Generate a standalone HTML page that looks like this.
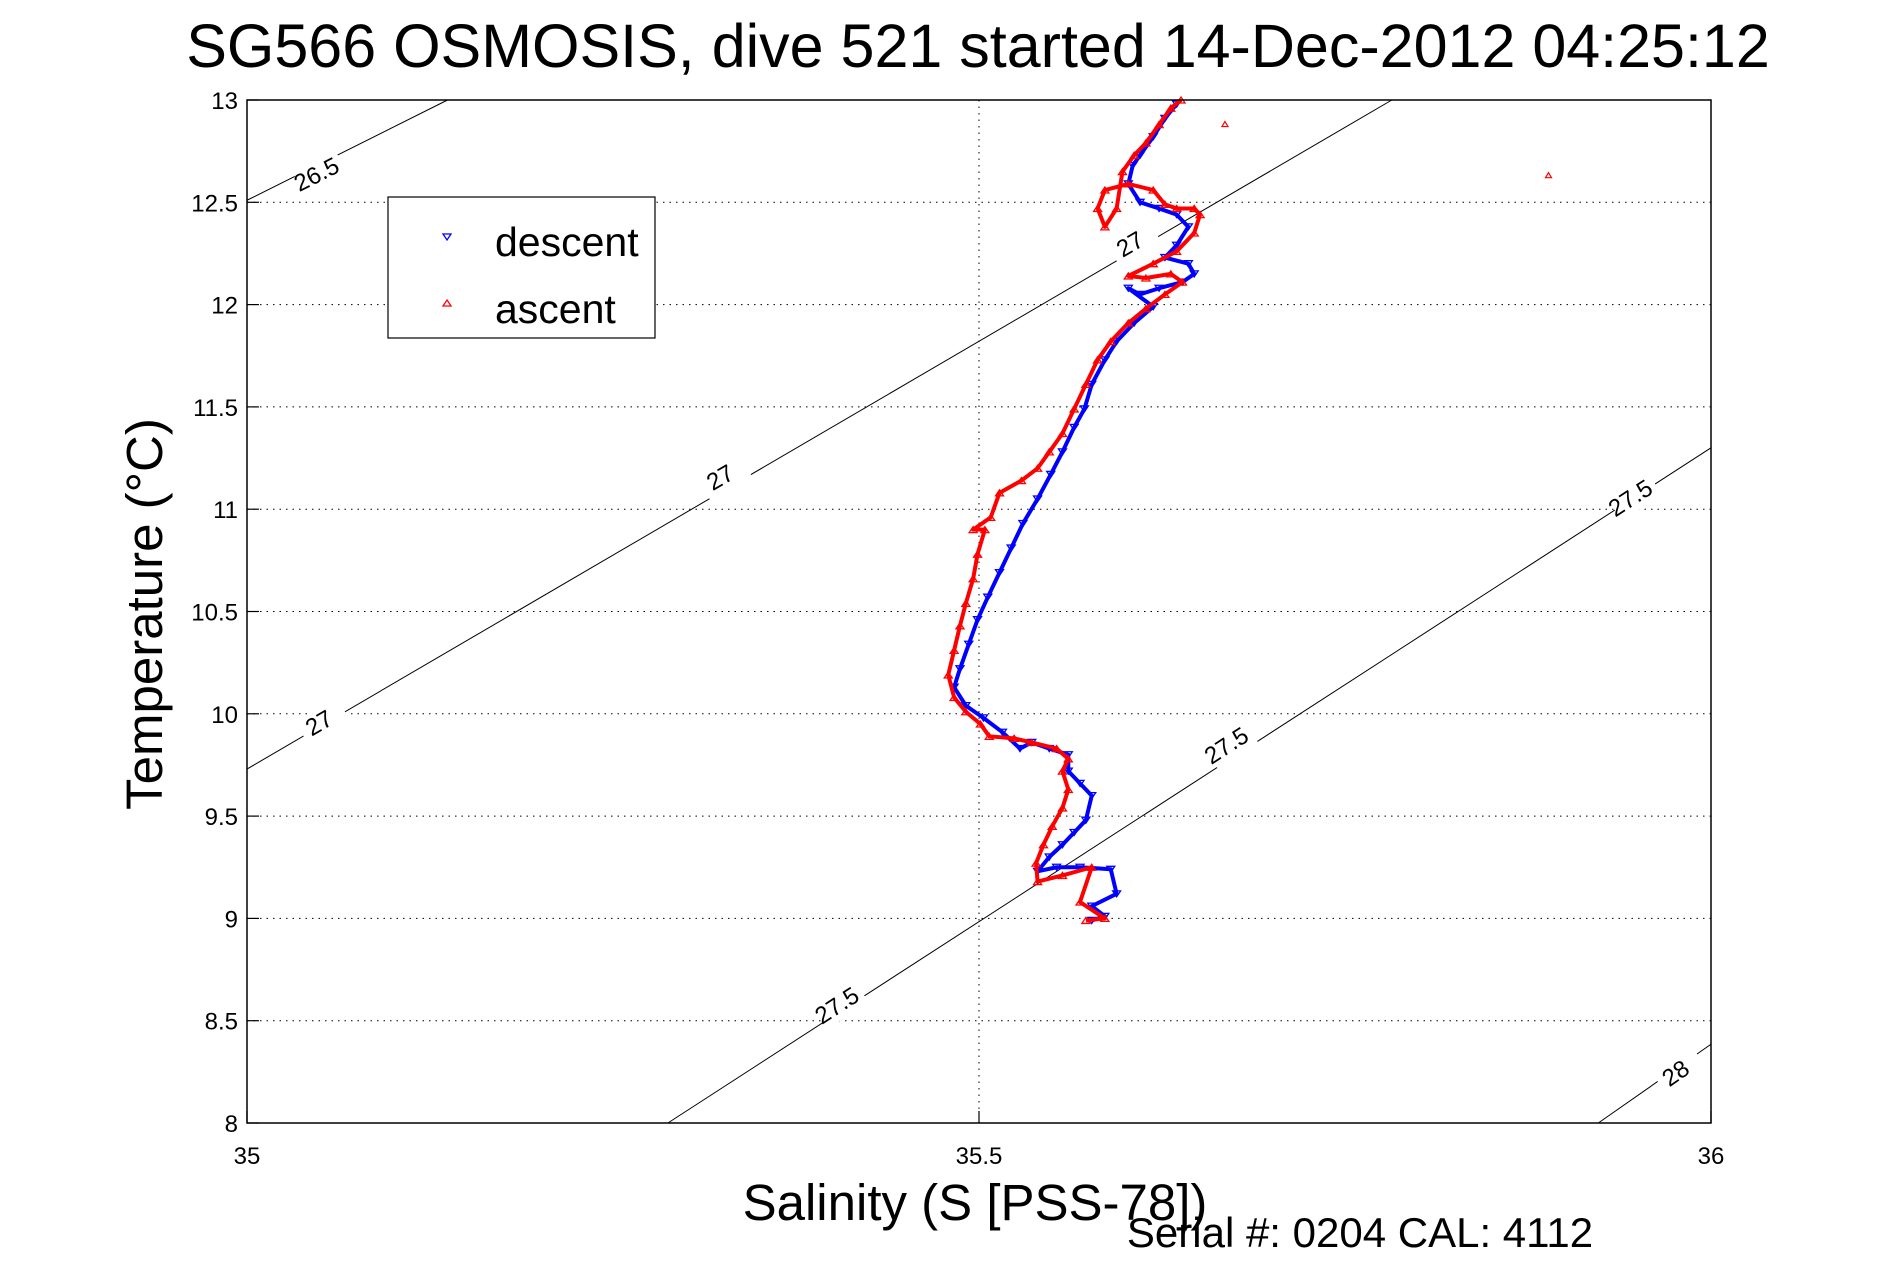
<!DOCTYPE html>
<html><head><meta charset="utf-8"><style>
html,body{margin:0;padding:0;background:#fff;}
svg{display:block;font-family:"Liberation Sans",sans-serif;}
</style></head><body>
<svg id="chart" width="1891" height="1262" viewBox="0 0 1891 1262">
<text x="978" y="67" font-size="61" text-anchor="middle">SG566 OSMOSIS, dive 521 started 14-Dec-2012 04:25:12</text>
<g id="grid"></g>
<g id="contours"></g>
<g id="series"></g>
<rect x="247" y="100" width="1464" height="1023" fill="none" stroke="#000" stroke-width="1.5"/>
<g id="ticks"></g>
<text x="975" y="1220" font-size="51" text-anchor="middle">Salinity (S [PSS-78])</text>
<text x="1360" y="1247" font-size="42" text-anchor="middle">Serial #: 0204  CAL: 4112</text>
<text transform="translate(162,614) rotate(-90)" font-size="51" text-anchor="middle">Temperature (°C)</text>
<g>
<rect x="388" y="197" width="267" height="141" fill="#fff" stroke="#000" stroke-width="1.2"/>
<path d="M443,234 l8,0 l-4,6 z" fill="none" stroke="#00f" stroke-width="1.3"/>
<text x="495" y="256" font-size="41">descent</text>
<path d="M443,306 l8,0 l-4,-6 z" fill="none" stroke="#f00" stroke-width="1.3"/>
<text x="495" y="323" font-size="41">ascent</text>
</g>
</svg>
<script>
const xTicks=[35,35.5,36];
const xTickLabels=["35","35.5","36"];
const yTicks=[8,8.5,9,9.5,10,10.5,11,11.5,12,12.5,13];
const yTickLabels=["8","8.5","9","9.5","10","10.5","11","11.5","12","12.5","13"];
const descentS=[35.635,35.627,35.619,35.610,35.605,35.602,35.610,35.623,35.635,35.643,35.635,35.627,35.643,35.647,35.639,35.623,35.610,35.602,35.619,35.606,35.594,35.586,35.577,35.572,35.565,35.557,35.549,35.540,35.530,35.522,35.514,35.506,35.499,35.493,35.487,35.483,35.491,35.503,35.516,35.528,35.536,35.548,35.561,35.561,35.569,35.577,35.573,35.565,35.557,35.548,35.540,35.553,35.569,35.590,35.594,35.577,35.586,35.577];
const descentT=[12.98,12.91,12.82,12.73,12.68,12.59,12.50,12.47,12.44,12.38,12.29,12.23,12.20,12.15,12.11,12.08,12.05,12.08,11.99,11.91,11.82,11.73,11.61,11.49,11.40,11.28,11.17,11.05,10.93,10.81,10.69,10.57,10.46,10.34,10.22,10.13,10.04,9.98,9.91,9.83,9.86,9.83,9.80,9.72,9.66,9.60,9.48,9.42,9.36,9.30,9.23,9.25,9.25,9.24,9.12,9.06,9.01,8.99];
const ascentS=[35.573,35.586,35.569,35.577,35.557,35.540,35.539,35.544,35.550,35.557,35.561,35.557,35.561,35.553,35.536,35.524,35.507,35.501,35.491,35.483,35.479,35.483,35.487,35.491,35.496,35.499,35.504,35.496,35.508,35.514,35.529,35.540,35.548,35.557,35.565,35.573,35.581,35.590,35.602,35.614,35.627,35.639,35.631,35.614,35.602,35.619,35.635,35.647,35.651,35.647,35.635,35.627,35.619,35.602,35.586,35.581,35.586,35.594,35.598,35.606,35.614,35.623,35.631,35.638];
const ascentT=[8.99,9.00,9.08,9.25,9.21,9.18,9.27,9.36,9.45,9.54,9.63,9.72,9.78,9.83,9.86,9.88,9.89,9.95,10.01,10.08,10.19,10.31,10.43,10.54,10.66,10.78,10.90,10.90,10.96,11.08,11.14,11.20,11.28,11.37,11.49,11.61,11.73,11.82,11.91,11.98,12.05,12.11,12.15,12.13,12.14,12.20,12.26,12.35,12.44,12.47,12.47,12.49,12.56,12.59,12.56,12.47,12.38,12.47,12.65,12.73,12.79,12.88,12.96,13.00];
const ascentOutS=[35.668,35.889];
const ascentOutT=[12.88,12.63];
const contourLevels=["26.5","27","27.5","28"];
const contourS0=[35,35,35.2875,35.923];
const contourT0=[12.51,9.73,8,8];
const contourS1=[35.137,35.782,36,36];
const contourT1=[13,13,11.30,8.385];
const labelLevels=["26.5","27","27","27","27.5","27.5","27.5","28"];
const labelS=[35.050,35.052,35.326,35.606,35.406,35.672,35.948,35.979];
const labelT=[12.64,9.96,11.16,12.30,8.58,9.85,11.06,8.25];

const NS="http://www.w3.org/2000/svg";
const L=247,R=1711,T=100,B=1123;
const sx=s=>L+(s-35)/(36-35)*(R-L);
const sy=t=>B-(t-8)/(13-8)*(B-T);
function mk(tag,attrs,parent){const e=document.createElementNS(NS,tag);for(const k in attrs)e.setAttribute(k,attrs[k]);parent.appendChild(e);return e;}
const grid=document.getElementById('grid'),ticks=document.getElementById('ticks');
xTicks.forEach((v,i)=>{
  const x=sx(v);
  if(i>0&&i<xTicks.length-1){const g=mk('line',{x1:x,x2:x,y1:T,y2:B,stroke:'#000','stroke-width':1,'stroke-dasharray':'1.5,5'},grid);
  
  }
  const tl=mk('line',{x1:x,x2:x,y1:B,y2:B-12,stroke:'#000','stroke-width':1.2},ticks);
  
  
  const t=mk('text',{x:x,y:B+41,'font-size':24,'text-anchor':'middle'},ticks);t.textContent=xTickLabels[i];
  
  
});
yTicks.forEach((v,i)=>{
  const y=sy(v);
  if(i>0&&i<yTicks.length-1){const g=mk('line',{x1:L,x2:R,y1:y,y2:y,stroke:'#000','stroke-width':1,'stroke-dasharray':'1.5,5'},grid);
  
  }
  const tl=mk('line',{x1:L,x2:L+12,y1:y,y2:y,stroke:'#000','stroke-width':1.2},ticks);
  
  
  const t=mk('text',{x:L-9,y:y+9,'font-size':24,'text-anchor':'end'},ticks);t.textContent=yTickLabels[i];
  
  
});
const cg=document.getElementById('contours');
contourLevels.forEach((lv,i)=>{
  const l=mk('line',{x1:sx(contourS0[i]),y1:sy(contourT0[i]),x2:sx(contourS1[i]),y2:sy(contourT1[i]),stroke:'#000','stroke-width':1},cg);
  
  
});
labelLevels.forEach((lv,i)=>{
  const j=contourLevels.indexOf(lv);
  const ang=Math.atan2(sy(contourT1[j])-sy(contourT0[j]),sx(contourS1[j])-sx(contourS0[j]))*180/Math.PI;
  const x=sx(labelS[i]),y=sy(labelT[i]);
  const bg=mk('rect',{x:-24,y:-13,width:48,height:26,fill:'#fff',transform:`translate(${x},${y}) rotate(${ang})`},cg);
  
  
  const t=mk('text',{'font-size':24,'text-anchor':'middle',transform:`translate(${x},${y+8}) rotate(${ang})`},cg);
  t.textContent=lv;
  
  
});
const sg=document.getElementById('series');
function series(S,Tt,color,down,name){
  const g=mk('g',{},sg);
  
  
  const pl=mk('polyline',{points:S.map((s,i)=>sx(s)+','+sy(Tt[i])).join(' '),fill:'none',stroke:color,'stroke-width':4,'stroke-linejoin':'round'},g);
  
  
  S.forEach((s,i)=>{
    const x=sx(s),y=sy(Tt[i]);
    const d=down?`M${x-4},${y-3} l8,0 l-4,6 z`:`M${x-4},${y+3} l8,0 l-4,-6 z`;
    const p=mk('path',{d:d,fill:'none',stroke:color,'stroke-width':1.3},g);
    
    
  });
}
series(descentS,descentT,'#0000ff',true,'descent');
series(ascentS,ascentT,'#ff0000',false,'ascent');
ascentOutS.forEach((s,i)=>{
  const x=sx(s),y=sy(ascentOutT[i]);
  const p=mk('path',{d:`M${x-3},${y+2} l6,0 l-3,-5 z`,fill:'none',stroke:'#f00','stroke-width':1.2},sg);
  
  
});
</script>
</body></html>
